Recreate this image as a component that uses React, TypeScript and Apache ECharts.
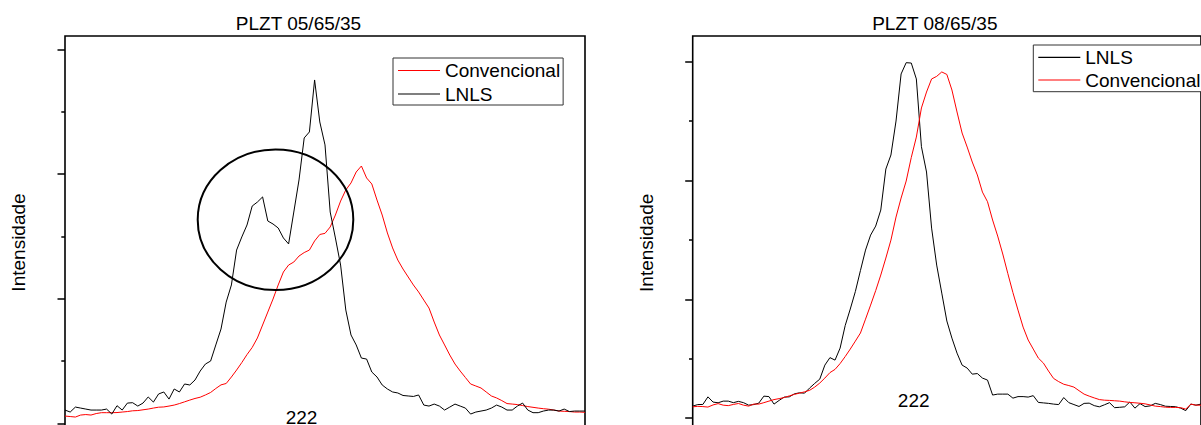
import React, { useEffect, useRef } from "react";
import * as echarts from "echarts";

// ---- Data (intensity, arbitrary counts; 101 equally spaced 2θ steps per panel) ----
const leftLNLS = [108,92,132,124,116,108,108,108,116,76,143,108,164,167,140,164,213,172,237,253,196,277,253,317,309,349,421,477,501,630,758,974,1111,1391,1496,1592,1744,1776,1817,1624,1600,1568,1488,1440,1696,1953,2290,2338,2755,2418,2234,1696,1488,1271,910,710,630,525,517,413,373,309,277,253,245,225,221,217,229,148,140,156,140,108,132,156,140,124,76,92,100,108,124,148,132,108,108,140,164,108,87,87,100,108,108,100,116,96,100,100,100];
const leftConv = [60,56,52,68,72,68,80,87,87,87,88,92,96,102,104,110,116,124,131,133,140,148,160,174,188,201,211,229,249,281,310,321,373,429,489,553,610,686,790,894,998,1111,1215,1271,1295,1343,1371,1391,1464,1516,1525,1576,1672,1784,1873,1929,2017,2065,1969,1921,1792,1672,1528,1408,1311,1239,1175,1111,1055,990,926,814,710,630,549,477,421,369,317,301,285,253,221,205,184,160,156,152,144,136,130,124,119,115,108,100,98,96,92,92,90];
const rightLNLS = [101,114,115,179,135,129,143,143,130,141,130,109,114,126,185,181,118,149,177,179,204,213,210,253,292,328,446,509,488,589,779,918,1065,1242,1414,1540,1616,1751,2096,2214,2500,2896,2991,2988,2854,2284,2071,1599,1288,1052,817,673,547,446,421,370,375,337,320,194,202,202,202,168,181,181,177,189,132,128,124,118,114,173,130,114,98,124,126,105,95,112,130,88,91,95,136,84,122,97,103,124,114,100,98,96,84,63,118,109,118];
const rightConv = [95,99,97,93,111,122,109,105,115,123,109,101,118,118,130,143,156,164,173,187,200,210,221,234,261,295,337,383,410,459,518,581,648,716,833,951,1073,1204,1347,1498,1692,1852,1995,2193,2365,2610,2744,2854,2876,2913,2892,2761,2576,2399,2281,2155,2046,1902,1821,1667,1532,1381,1216,1056,909,766,657,581,505,463,396,334,307,285,274,261,231,202,185,170,156,151,149,146,143,137,132,129,125,120,111,101,97,92,90,90,88,76,118,109,109];

const majorTicks = [0, 1000, 2000, 3000];
const minorTicks = [500, 1500, 2500];
const titles = ["PLZT 05/65/35", "PLZT 08/65/35"];
const yName = "Intensidade";
const peakLabel = "222";
const leftLegend = ["Convencional", "LNLS"];
const rightLegend = ["LNLS", "Convencional"];

const FONT = "'Liberation Sans', Arial, Helvetica, sans-serif";
const RED = "#ff0000";
const BLACK = "#000000";

const toPairs = (arr: number[]) => arr.map((v, i) => [i, v]);

export default function App() {
  const ref = useRef<HTMLDivElement>(null);
  useEffect(() => {
    if (!ref.current) return;
    const chart = echarts.init(ref.current, null, { renderer: "svg" });

    const yAxisPair = (grid: number, max: number) => [
      {
        gridIndex: grid, type: "value", position: "left", min: -100, max,
        axisLine: { show: false }, splitLine: { show: false }, axisLabel: { show: false },
        axisTick: { show: true, length: 7.5, customValues: majorTicks, lineStyle: { color: BLACK, width: 1.5 } },
      },
      {
        gridIndex: grid, type: "value", position: "left", offset: 0, min: -100, max,
        axisLine: { show: false }, splitLine: { show: false }, axisLabel: { show: false },
        axisTick: { show: true, length: 3.7, customValues: minorTicks, lineStyle: { color: BLACK, width: 1.5 } },
      },
    ];

    const legendBase = {
      orient: "vertical",
      icon: "rect",
      itemWidth: 42,
      itemHeight: 1.2,
      selectedMode: false,
      borderColor: "#333",
      borderWidth: 1,
      backgroundColor: "#fff",
      textStyle: { fontSize: 19, fontFamily: FONT, color: BLACK },
    };

    const text = (t: string, x: number, y: number, rot = 0) => ({
      type: "text", x, y, rotation: rot,
      style: { text: t, fill: BLACK, fontSize: 19, fontFamily: FONT, align: "center", verticalAlign: "middle" },
    });

    chart.setOption({
      animation: false,
      backgroundColor: "#fff",
      grid: [
        { left: 65, top: 36, width: 520, height: 400, show: true, borderColor: BLACK, borderWidth: 1.6, backgroundColor: "transparent" },
        { left: 692.7, top: 36, width: 520, height: 394, show: true, borderColor: BLACK, borderWidth: 1.6, backgroundColor: "transparent" },
      ],
      xAxis: [
        { gridIndex: 0, type: "value", min: 0, max: 100, show: false },
        { gridIndex: 1, type: "value", min: 0, max: 100, show: false },
      ],
      yAxis: [...yAxisPair(0, 3107.5), ...yAxisPair(1, 3215.5)],
      legend: [
        { ...legendBase, left: 393, top: 58, itemGap: 4.5, padding: [3, 3, 1.5, 5], data: leftLegend },
        { ...legendBase, left: 1033.3, top: 45, itemGap: 3.7, padding: [2.8, 3, 2.2, 5], data: rightLegend },
      ],
      series: [
        { type: "line", name: "Convencional", xAxisIndex: 0, yAxisIndex: 0, data: toPairs(leftConv), symbol: "none", lineStyle: { color: RED, width: 1 }, itemStyle: { color: RED } },
        { type: "line", name: "LNLS", xAxisIndex: 0, yAxisIndex: 0, data: toPairs(leftLNLS), symbol: "none", lineStyle: { color: BLACK, width: 1 }, itemStyle: { color: BLACK } },
        { type: "line", name: "LNLS", xAxisIndex: 1, yAxisIndex: 2, data: toPairs(rightLNLS), symbol: "none", lineStyle: { color: BLACK, width: 1 }, itemStyle: { color: BLACK } },
        { type: "line", name: "Convencional", xAxisIndex: 1, yAxisIndex: 2, data: toPairs(rightConv), symbol: "none", lineStyle: { color: RED, width: 1 }, itemStyle: { color: RED } },
      ],
      graphic: [
        text(titles[0], 298.5, 23.7),
        text(titles[1], 934.8, 23.5),
        text(yName, 18.3, 242.5, Math.PI / 2),
        text(yName, 646, 242.8, Math.PI / 2),
        text(peakLabel, 301.5, 417.7),
        text(peakLabel, 913.7, 400),
        {
          type: "ellipse",
          shape: { cx: 275.5, cy: 219.7, rx: 77.8, ry: 70.3 },
          style: { fill: "none", stroke: BLACK, lineWidth: 2 },
          z: 10,
        },
      ],
    });
    return () => chart.dispose();
  }, []);

  return (
    <div style={{ position: "absolute", left: 0, top: 0, width: 1201, height: 425, overflow: "hidden", background: "#fff" }}>
      <div ref={ref} style={{ width: 1201, height: 460 }} />
    </div>
  );
}
